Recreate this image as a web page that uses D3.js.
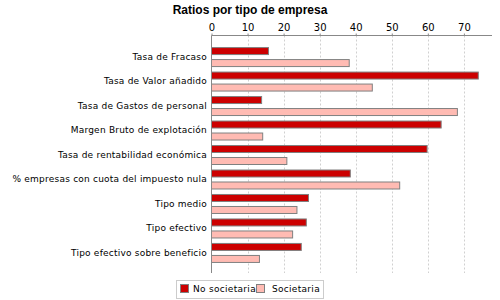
<!DOCTYPE html>
<html>
<head>
<meta charset="utf-8">
<script src="https://cdn.jsdelivr.net/npm/d3@7"></script>
<style>
  body { margin: 0; background: #fff; }
  svg { display: block; }
</style>
</head>
<body>
<svg></svg>
<script>
// data
const categories = [
  "Tasa de Fracaso",
  "Tasa de Valor añadido",
  "Tasa de Gastos de personal",
  "Margen Bruto de explotación",
  "Tasa de rentabilidad económica",
  "% empresas con cuota del impuesto nula",
  "Tipo medio",
  "Tipo efectivo",
  "Tipo efectivo sobre beneficio"
];
const series = ["No societaria", "Societaria"];
const noSocietaria = [15.8, 74.0, 13.9, 63.7, 59.8, 38.5, 26.9, 26.3, 24.9];
const societaria = [38.2, 44.6, 68.2, 14.2, 20.9, 52.2, 23.7, 22.5, 13.3];
const xTicks = [0, 10, 20, 30, 40, 50, 60, 70];

const colors = ["#cc0000", "#ffbbb3"];

const width = 500, height = 300;
const svg = d3.select("svg").attr("width", width).attr("height", height);

const plotLeft = 211.5, plotRight = 492, plotTop = 35.5, plotBottom = 273;

// scales
const x = d3.scaleLinear().domain([0, 77.8]).range([plotLeft, plotRight]);
const y0 = d3.scaleBand().domain(categories).range([plotTop, plotBottom])
  .paddingInner(0).paddingOuter(0.35);
const y1 = d3.scaleBand().domain(series).range([0, y0.bandwidth()])
  .paddingInner(0.42).paddingOuter(0.23);

// title
svg.append("text")
  .attr("x", 250).attr("y", 14)
  .attr("text-anchor", "middle")
  .style("font", "bold 12px 'Liberation Sans', Arial, sans-serif")
  .text("Ratios por tipo de empresa");

// gridlines
svg.append("g").selectAll("line")
  .data(xTicks.slice(1))
  .enter().append("line")
  .attr("x1", d => Math.round(x(d)) + 0.5).attr("x2", d => Math.round(x(d)) + 0.5)
  .attr("y1", plotTop).attr("y2", plotBottom)
  .attr("stroke", "#d0d0d0")
  .attr("stroke-dasharray", "2,2");

// bars
const rows = categories.map((c, i) => ({ cat: c, vals: [noSocietaria[i], societaria[i]] }));
const group = svg.append("g").selectAll("g")
  .data(rows)
  .enter().append("g")
  .attr("transform", d => `translate(0,${y0(d.cat)})`);

group.selectAll("rect")
  .data(d => d.vals.map((v, j) => ({ s: series[j], v: v, j: j })))
  .enter().append("rect")
  .attr("x", x(0))
  .attr("y", d => Math.round(y1(d.s)) + 0.5)
  .attr("width", d => x(d.v) - x(0))
  .attr("height", Math.round(y1.bandwidth()))
  .attr("fill", d => colors[d.j])
  .attr("stroke", "#808080")
  .attr("stroke-width", 1);

// axes
const xAxis = d3.axisTop(x).tickValues(xTicks).tickSizeInner(2).tickSizeOuter(0);
const gx = svg.append("g")
  .attr("transform", `translate(0,${plotTop})`)
  .call(xAxis);
gx.select(".domain").attr("stroke", "#888").attr("d", `M${plotLeft},0H${plotRight}`);
gx.selectAll(".tick line").attr("stroke", "#888");
gx.selectAll("text")
  .attr("fill", "#000")
  .style("font", "10px 'DejaVu Sans', sans-serif");

svg.append("line")
  .attr("x1", plotLeft).attr("x2", plotLeft)
  .attr("y1", plotTop).attr("y2", plotBottom)
  .attr("stroke", "#888");

// category labels
svg.append("g").selectAll("text")
  .data(categories)
  .enter().append("text")
  .attr("x", 207)
  .attr("y", d => y0(d) + y0.bandwidth() / 2 + 0.5)
  .attr("dy", "0.35em")
  .attr("text-anchor", "end")
  .style("font", "9px 'DejaVu Sans', sans-serif")
  .style("letter-spacing", "0.22px")
  .text(d => d);

// legend
const legend = svg.append("g");
legend.append("rect")
  .attr("x", 176.5).attr("y", 280.5)
  .attr("width", 147).attr("height", 18)
  .attr("fill", "#fff").attr("stroke", "#ccc");

const legendPos = [180, 256];
const legendText = [193, 272];
series.forEach((s, i) => {
  legend.append("rect")
    .attr("x", legendPos[i] + 0.5).attr("y", 284.5)
    .attr("width", 8).attr("height", 8)
    .attr("fill", colors[i]).attr("stroke", "#808080");
  legend.append("text")
    .attr("x", legendText[i]).attr("y", 289)
    .attr("dy", "0.35em")
    .style("font", "9px 'DejaVu Sans', sans-serif")
    .style("letter-spacing", "0.3px")
    .text(s);
});
</script>
</body>
</html>
